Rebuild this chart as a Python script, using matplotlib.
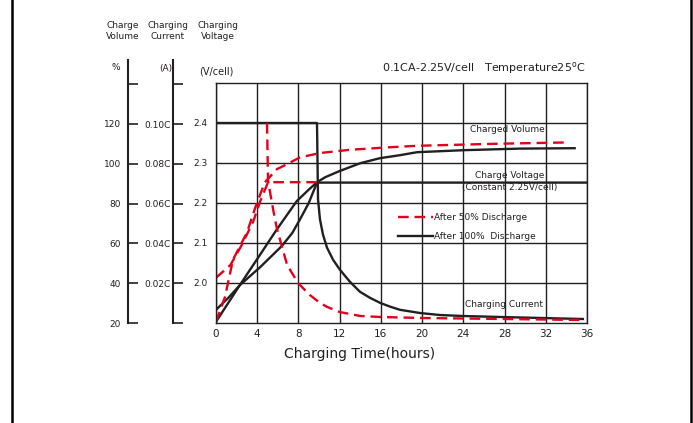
import matplotlib
matplotlib.use("Agg")
import matplotlib.pyplot as plt
from matplotlib.lines import Line2D

# --- data ---
hours_ticks = [0, 4, 8, 12, 16, 20, 24, 28, 32, 36]
volt_ticks = [2.0, 2.1, 2.2, 2.3, 2.4]
vol_ticks = [20, 40, 60, 80, 100, 120, 140]
vol_labels = ['20', '40', '60', '80', '100', '120', '']
cur_ticks = [0.0, 0.02, 0.04, 0.06, 0.08, 0.10, 0.12]
cur_labels = ['', '0.02C', '0.04C', '0.06C', '0.08C', '0.10C', '']

# after 100% discharge (black)
t_vol100 = [0, 2.33, 4.0, 5.89, 7.83, 8.9, 9.8, 10.6, 12.0, 14.0, 15.9, 17.85, 19.5, 24.0, 29.5, 34.8]
vol100 = [20.6, 39.1, 52.0, 66.7, 80.9, 86.2, 90.4, 92.9, 96.0, 99.9, 102.4, 103.9, 105.4, 106.4, 107.2, 107.4]
t_volt100 = [0, 1.2, 2.33, 4.3, 6.37, 7.4, 8.15, 9.0, 9.8, 36]
volt100 = [1.933, 1.963, 1.995, 2.040, 2.092, 2.125, 2.159, 2.200, 2.251, 2.251]
t_cur100 = [0, 9.8, 9.9, 10.09, 10.38, 10.77, 11.35, 12.03, 13.0, 13.97, 14.94, 15.91,
            16.88, 17.85, 19.79, 21.7, 23.97, 27.6, 35.6]
cur100 = [0.10, 0.10, 0.0618, 0.0518, 0.0442, 0.0377, 0.0317, 0.0266, 0.0206, 0.0156, 0.0126, 0.0101,
          0.0082, 0.0066, 0.0050, 0.0040, 0.0035, 0.0030, 0.0020]

# after 50% discharge (red)
t_vol50 = [0, 0.87, 1.65, 3.0, 3.98, 4.75, 5.9, 6.5, 8.15, 10.1, 13.0, 16.6, 19.5, 27.0, 34.3]
vol50 = [20.5, 33, 51.7, 65.2, 80.3, 90.4, 96.9, 98.4, 102.8, 105.0, 106.6, 107.8, 108.6, 109.6, 110.3]
t_volt50 = [0, 1.4, 2.5, 3.6, 4.3, 5.05, 9.8]
volt50 = [2.013, 2.045, 2.095, 2.153, 2.205, 2.252, 2.252]
t_cur50 = [4.95, 5.05, 5.72, 5.92, 6.9, 7.96, 9.1, 10.1, 10.8, 12.0, 14.0, 16.0, 20.0, 28.0, 35.6]
cur50 = [0.10, 0.0709, 0.0518, 0.047, 0.029, 0.020, 0.014, 0.010, 0.008, 0.0055, 0.0035, 0.003, 0.0025, 0.002, 0.0015]

ink = '#231f20'
red = '#e3001b'


def vol_to_v(p):
    return [1.9 + (x - 20) / 200.0 for x in p]


def cur_to_v(c):
    return [1.9 + x * 5.0 for x in c]


fig = plt.figure(figsize=(6.93, 4.23), dpi=100)
W, H = 693.0, 423.0

# main plot
ax = fig.add_axes([216 / W, 1 - 323 / H, (587 - 216) / W, (323 - 83) / H])
ax.set_xlim(0, 36)
ax.set_ylim(1.9, 2.5)
ax.set_xticks(hours_ticks)
ax.set_yticks(volt_ticks)
ax.set_yticklabels(['%.1f' % v for v in volt_ticks])
ax.tick_params(axis='y', length=0, pad=6, labelsize=6.5, colors=ink)
ax.tick_params(axis='x', length=0, pad=4, labelsize=7.5, colors=ink)
ax.grid(True, color=ink, lw=1.0)
ax.set_axisbelow(True)
for s in ax.spines.values():
    s.set_color(ink)
    s.set_linewidth(1.0)

dash = (0, (4.5, 2.5))
lw = 1.7
ax.plot(t_vol100, vol_to_v(vol100), color=ink, lw=lw)
ax.plot(t_volt100, volt100, color=ink, lw=lw)
ax.plot(t_cur100, cur_to_v(cur100), color=ink, lw=lw)
ax.plot(t_vol50, vol_to_v(vol50), color=red, lw=lw, ls=dash)
ax.plot(t_volt50, volt50, color=red, lw=lw, ls=dash)
ax.plot(t_cur50, cur_to_v(cur50), color=red, lw=lw, ls=dash)

handles = [Line2D([], [], color=red, lw=lw, ls=dash),
           Line2D([], [], color=ink, lw=lw)]
ax.legend(handles, ['After 50% Discharge', 'After 100%  Discharge'],
          loc='upper left', bbox_to_anchor=(0.49, 0.457), frameon=False,
          fontsize=6.5, handlelength=3.9, handletextpad=0.15,
          labelspacing=1.1, borderpad=0, borderaxespad=0,
          labelcolor=ink)

ax.text(28.3, 2.385, 'Charged Volume', fontsize=6.5, color=ink, ha='center', va='center')
ax.text(28.5, 2.269, 'Charge Voltage', fontsize=6.5, color=ink, ha='center', va='center')
ax.text(28.5, 2.239, '(Constant 2.25V/cell)', fontsize=6.5, color=ink, ha='center', va='center')
ax.text(27.9, 1.945, 'Charging Current', fontsize=6.5, color=ink, ha='center', va='center')

# side axes: charge volume and charging current
top_ext = 1 - 60 / H
for xpix, ticks, labels, top, pad in [
        (128, vol_ticks, vol_labels, 20 + (323 - 60) * 0.5025, 5),
        (173, cur_ticks, cur_labels, (323 - 60) / 1990.0, 1.5)]:
    sax = fig.add_axes([xpix / W, 1 - 323 / H, 0.001, top_ext - (1 - 323 / H)])
    sax.patch.set_visible(False)
    for k in ['top', 'right', 'bottom']:
        sax.spines[k].set_visible(False)
    sax.spines['left'].set_color(ink)
    sax.spines['left'].set_linewidth(1.5)
    sax.set_xticks([])
    sax.set_ylim(ticks[0], top)
    sax.set_yticks(ticks)
    sax.set_yticklabels(labels)
    sax.tick_params(axis='y', direction='in', length=7, width=1.2, pad=pad,
                    labelsize=6.5, colors=ink)

# header texts
fig.text(123 / W, 1 - 31 / H, 'Charge\nVolume', fontsize=6.5, color=ink, ha='center', va='center', linespacing=1.2)
fig.text(168 / W, 1 - 31 / H, 'Charging\nCurrent', fontsize=6.5, color=ink, ha='center', va='center', linespacing=1.2)
fig.text(218 / W, 1 - 31 / H, 'Charging\nVoltage', fontsize=6.5, color=ink, ha='center', va='center', linespacing=1.2)
fig.text(116 / W, 1 - 68 / H, '%', fontsize=6.5, color=ink, ha='center', va='center')
fig.text(166 / W, 1 - 68 / H, '(A)', fontsize=6.5, color=ink, ha='center', va='center')
fig.text(216 / W, 1 - 71 / H, '(V/cell)', fontsize=7, color=ink, ha='center', va='center')
fig.text(585 / W, 1 - 68 / H, '0.1CA-2.25V/cell   Temperature25$^{\\mathrm{o}}$C',
         fontsize=8, color=ink, ha='right', va='center')
fig.text(360 / W, 1 - 354 / H, 'Charging Time(hours)', fontsize=10, color=ink, ha='center', va='center')

# outer frame (left and right lines only)
fig.add_artist(Line2D([12 / W, 12 / W], [0, 1], color='black', lw=1.8))
fig.add_artist(Line2D([691 / W, 691 / W], [0, 1], color='black', lw=1.8))

fig.savefig('out.png', dpi=100)
